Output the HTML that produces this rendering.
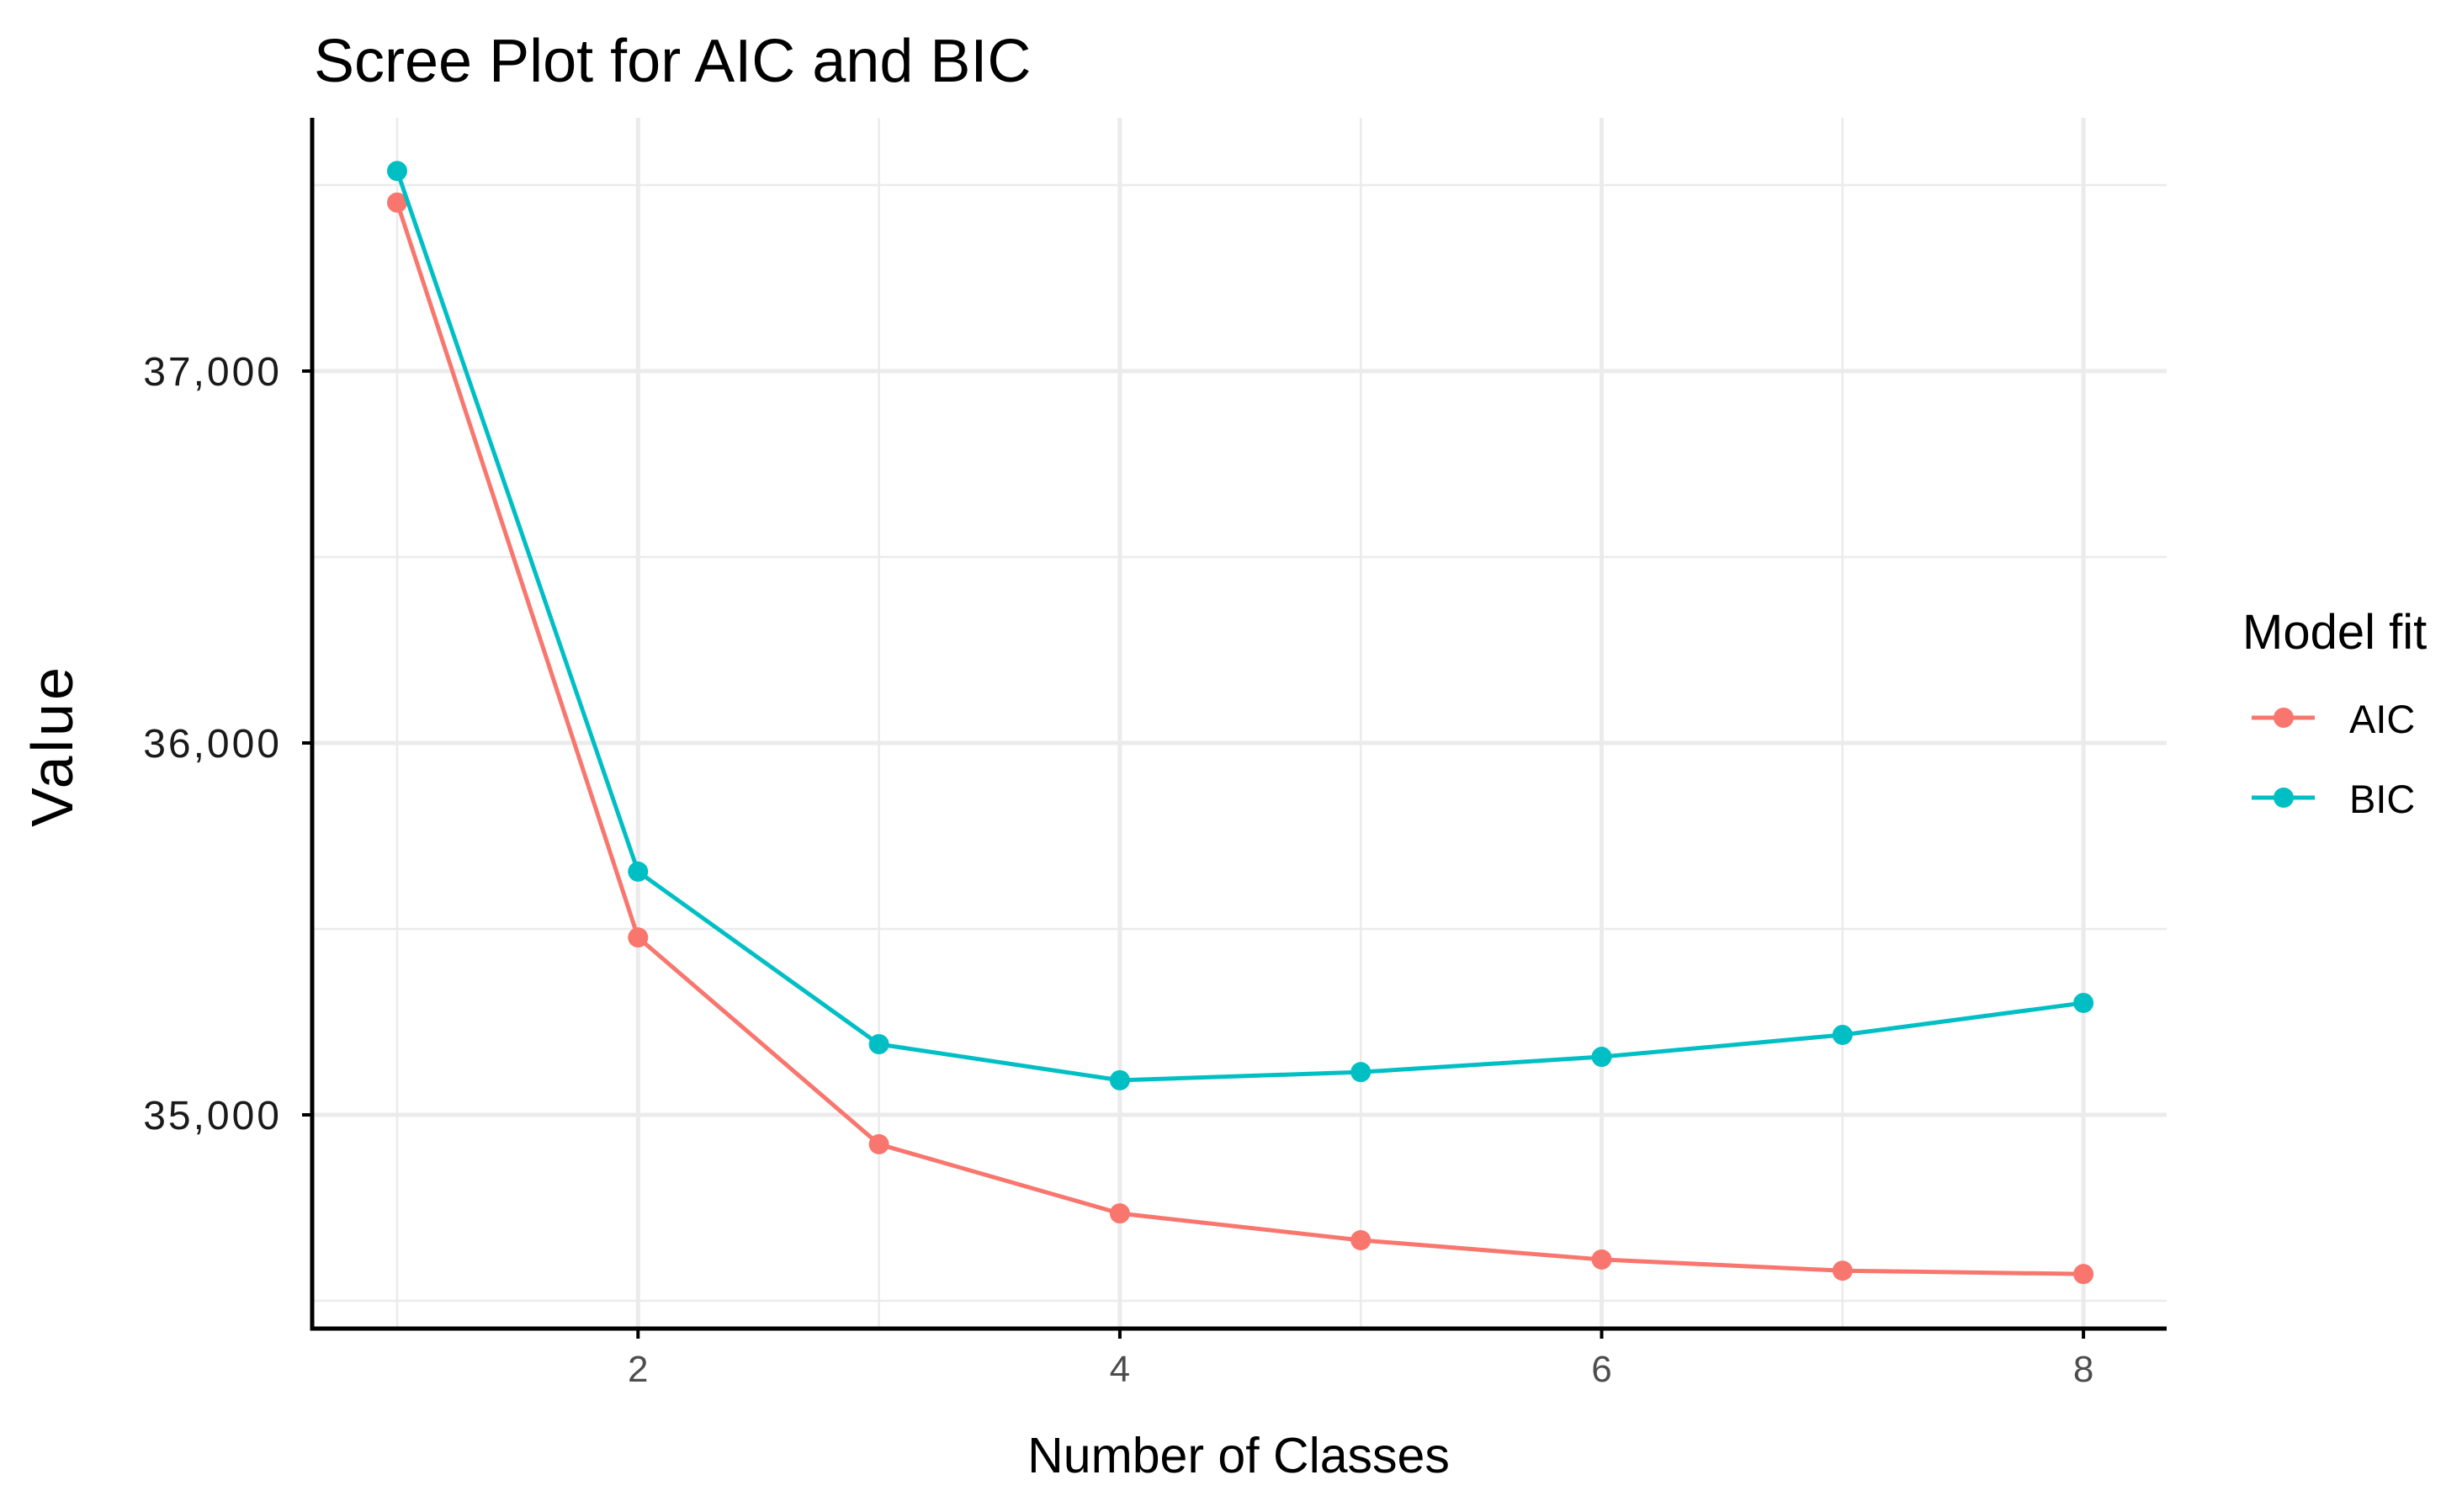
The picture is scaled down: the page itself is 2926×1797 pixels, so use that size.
<!DOCTYPE html>
<html>
<head>
<meta charset="utf-8">
<style>
  html, body { margin: 0; padding: 0; background: #fff; }
  svg { display: block; font-family: "Liberation Sans", sans-serif; }
</style>
</head>
<body>
<svg id="chart" width="2926" height="1797" viewBox="0 0 2926 1797" xmlns="http://www.w3.org/2000/svg">
  <rect x="0" y="0" width="2926" height="1797" fill="#ffffff"/>
  <text x="373" y="97" font-size="72" fill="#000">Scree Plot for AIC and BIC</text>
  <g id="grid"></g>
  <g id="series"></g>
  <g id="axes"></g>
  <text x="1472" y="1750" font-size="59" text-anchor="middle" fill="#000">Number of Classes</text>
  <text x="0" y="0" font-size="70" text-anchor="middle" fill="#000" letter-spacing="4" transform="translate(86,886) rotate(-90)">Value</text>
  <g id="legend">
    <text x="2665" y="771" font-size="58" fill="#000">Model fit</text>
  </g>
</svg>
<script>
const categories = [1, 2, 3, 4, 5, 6, 7, 8];
const aicValues = [37453, 35477, 34921, 34735, 34663, 34611, 34581, 34572];
const bicValues = [37538, 35654, 35190, 35093, 35115, 35156, 35215, 35301];
const seriesNames = ["AIC", "BIC"];
const xTicks = [2, 4, 6, 8];
const xTickLabels = ["2", "4", "6", "8"];
const yTicks = [35000, 36000, 37000];
const yTickLabels = ["35,000", "36,000", "37,000"];
const yMinorTicks = [34500, 35500, 36500, 37500];
const xMinorTicks = [1, 3, 5, 7];

const NS = "http://www.w3.org/2000/svg";
const plot = { left: 371, right: 2575, top: 140, bottom: 1579 };
function xScale(v) { return 472 + (v - 1) * 286.3; }
function yScale(v) { return 1325 - (v - 35000) * 0.442; }
function mk(tag, attrs, parent) {
  const el = document.createElementNS(NS, tag);
  for (const k in attrs) el.setAttribute(k, attrs[k]);
  parent.appendChild(el);
  return el;
}
const grid = document.getElementById("grid");
const series = document.getElementById("series");
const axes = document.getElementById("axes");
const legend = document.getElementById("legend");

yMinorTicks.forEach(v => {
  const l = mk("line", {x1: plot.left, x2: plot.right, y1: yScale(v), y2: yScale(v), stroke: "#ebebeb", "stroke-width": 2.5}, grid);
  
  
});
xMinorTicks.forEach(v => {
  const l = mk("line", {x1: xScale(v), x2: xScale(v), y1: plot.top, y2: plot.bottom, stroke: "#ebebeb", "stroke-width": 2.5}, grid);
  
  
});
yTicks.forEach(v => {
  const l = mk("line", {x1: plot.left, x2: plot.right, y1: yScale(v), y2: yScale(v), stroke: "#ebebeb", "stroke-width": 5}, grid);
  
  
});
xTicks.forEach(v => {
  const l = mk("line", {x1: xScale(v), x2: xScale(v), y1: plot.top, y2: plot.bottom, stroke: "#ebebeb", "stroke-width": 5}, grid);
  
  
});

const colors = ["#F8766D", "#00BFC4"];
[aicValues, bicValues].forEach((vals, si) => {
  const pts = vals.map((v, i) => xScale(categories[i]) + "," + yScale(v)).join(" ");
  const pl = mk("polyline", {points: pts, fill: "none", stroke: colors[si], "stroke-width": 5, "stroke-linejoin": "round"}, series);
  
  
  vals.forEach((v, i) => {
    const c = mk("circle", {cx: xScale(categories[i]), cy: yScale(v), r: 12, fill: colors[si]}, series);
    
    
  });
});

const ya = mk("line", {x1: plot.left, x2: plot.left, y1: plot.top, y2: plot.bottom + 2.5, stroke: "#000", "stroke-width": 5}, axes);


const xa = mk("line", {x1: plot.left - 2.5, x2: plot.right, y1: plot.bottom, y2: plot.bottom, stroke: "#000", "stroke-width": 5}, axes);



yTicks.forEach((v, i) => {
  const t = mk("line", {x1: plot.left - 12, x2: plot.left, y1: yScale(v), y2: yScale(v), stroke: "#000", "stroke-width": 4}, axes);
  
  
  const tx = mk("text", {x: plot.left - 36, y: yScale(v) + 17, "font-size": 48, "letter-spacing": 3, "text-anchor": "end", fill: "#1a1a1a"}, axes);
  tx.textContent = yTickLabels[i];
  
  
});
xTicks.forEach((v, i) => {
  const t = mk("line", {x1: xScale(v), x2: xScale(v), y1: plot.bottom, y2: plot.bottom + 12, stroke: "#000", "stroke-width": 4}, axes);
  
  
  const tx = mk("text", {x: xScale(v), y: 1642, "font-size": 44, "text-anchor": "middle", fill: "#4d4d4d"}, axes);
  tx.textContent = xTickLabels[i];
  
  
});

const legendY = [853, 948];
seriesNames.forEach((name, i) => {
  const l = mk("line", {x1: 2676, x2: 2751, y1: legendY[i], y2: legendY[i], stroke: colors[i], "stroke-width": 5}, legend);
  
  
  const c = mk("circle", {cx: 2714, cy: legendY[i], r: 12, fill: colors[i]}, legend);
  
  
  const t = mk("text", {x: 2792, y: legendY[i] + 18, "font-size": 47, fill: "#000"}, legend);
  t.textContent = name;
  
  
});
</script>
</body>
</html>
